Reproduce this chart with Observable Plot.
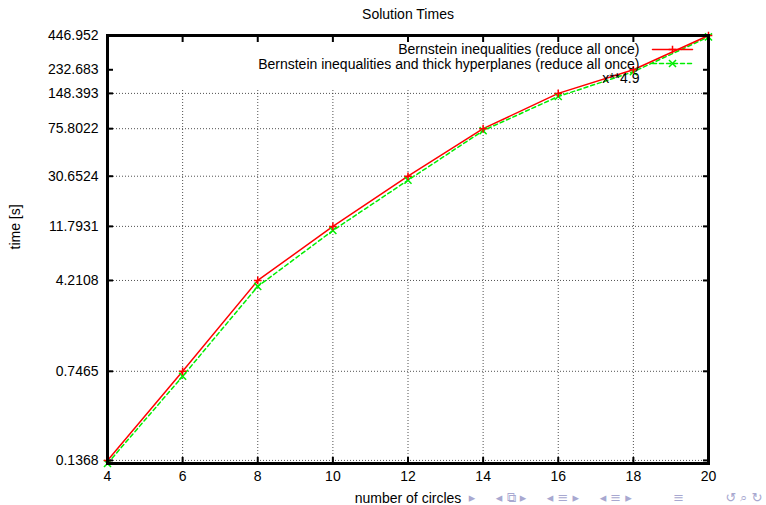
<!DOCTYPE html>
<html>
<head>
<meta charset="utf-8">
<script src="https://cdn.jsdelivr.net/npm/d3@7"></script>
<script src="https://cdn.jsdelivr.net/npm/@observablehq/plot@0.6"></script>
<style>
  html, body { margin: 0; padding: 0; background: white; }
  svg { display: block; overflow: visible; }
</style>
</head>
<body>
<div id="chart"></div>
<script>
// ---- data ----
const circles = [4, 6, 8, 10, 12, 14, 16, 18, 20];
const bernstein = [0.1368, 0.7465, 4.2108, 11.7931, 30.6524, 75.8022, 148.393, 232.683, 446.952];
const bernsteinThick = [0.129, 0.679, 3.76, 10.9, 28.4, 73.0, 140, 224, 435];
const yTicks = [0.1368, 0.7465, 4.2108, 11.7931, 30.6524, 75.8022, 148.393, 232.683, 446.952];
const yTickLabels = ["0.1368", "0.7465", "4.2108", "11.7931", "30.6524", "75.8022", "148.393", "232.683", "446.952"];
const xTicks = [4, 6, 8, 10, 12, 14, 16, 18, 20];
const yGrid = [0.1368, 0.7465, 4.2108, 11.7931, 30.6524, 75.8022, 148.393];
const xGrid = [6, 8, 10, 12, 14, 16, 18];
const seriesNames = ["Bernstein inequalities (reduce all once)",
                     "Bernstein inequalities and thick hyperplanes (reduce all once)",
                     "x**4.9"];
const title = "Solution Times";
const xLabel = "number of circles";
const yLabel = "time [s]";

const rows = circles.map((c, i) => ({c, a: bernstein[i], b: bernsteinThick[i]}));

const RED = "#ff0000", GREEN = "#00ee00";
const gridStyle = {stroke: "#333", strokeDasharray: "1,2", strokeWidth: 1, strokeOpacity: 0.85};
const lineShape = {draw(ctx, l) { ctx.moveTo(0, 0); ctx.lineTo(0, -l); }};
const yLabelOf = d => yTickLabels[yTicks.indexOf(d)] ?? String(d);

const chart = Plot.plot({
  width: 766,
  height: 505,
  marginTop: 35,
  marginRight: 58,
  marginBottom: 42,
  marginLeft: 107,
  style: {fontFamily: "'Liberation Sans', Arial, Helvetica, sans-serif", fontSize: "14px", background: "white", color: "black"},
  x: {domain: [4, 20]},
  y: {type: "log", domain: d3.extent([...bernstein, ...bernsteinThick])},
  marks: [
    // grid
    Plot.ruleY(yGrid, {y: d => d, ...gridStyle}),
    Plot.ruleX(xGrid, {x: d => d, insetTop: 55, ...gridStyle}),
    // series
    Plot.line(rows, {x: "c", y: "b", stroke: GREEN, strokeWidth: 1.5, strokeDasharray: "4,3"}),
    Plot.line(rows, {x: "c", y: "a", stroke: RED, strokeWidth: 1.5}),
    Plot.dot(rows, {x: "c", y: "b", symbol: "times", r: 3.3, stroke: GREEN, strokeWidth: 1.5}),
    Plot.dot(rows, {x: "c", y: "a", symbol: "plus", r: 2.6, stroke: RED, strokeWidth: 1.5}),
    // frame
    Plot.frame({stroke: "black", strokeWidth: 3}),
    // inward ticks (mirrored on all sides)
    Plot.axisY(yTicks, {anchor: "left", tickSize: 6, dx: 6, tickFormat: () => "", label: null, strokeWidth: 2}),
    Plot.axisY(yTicks, {anchor: "right", tickSize: 6, dx: -6, tickFormat: () => "", label: null, strokeWidth: 2}),
    Plot.axisX(xTicks, {anchor: "bottom", tickSize: 6, dy: -6, tickFormat: () => "", label: null, strokeWidth: 2}),
    Plot.axisX(xTicks, {anchor: "top", tickSize: 6, dy: 6, tickFormat: () => "", label: null, strokeWidth: 2}),
    // tick labels
    Plot.text(yTicks, {y: d => d, frameAnchor: "left", dx: -9, textAnchor: "end", text: yLabelOf, fontSize: 14}),
    Plot.text(xTicks, {x: d => d, frameAnchor: "bottom", dy: 17, text: d => String(d), fontSize: 14}),
    // titles
    Plot.text([title], {frameAnchor: "top", dy: -21, fontSize: 14, lineAnchor: "middle"}),
    Plot.text([xLabel], {frameAnchor: "bottom", dy: 35, fontSize: 14, lineAnchor: "middle"}),
    Plot.text([yLabel], {frameAnchor: "left", dx: -92, rotate: -90, fontSize: 14, lineAnchor: "middle"}),
    // key
    Plot.text([seriesNames.join("\n")], {frameAnchor: "top-right", dx: -69, dy: 28.5, textAnchor: "end", lineAnchor: "middle", lineHeight: 1.036, fontSize: 14}),
    Plot.vector([0], {frameAnchor: "top-right", dx: -56, dy: 14, rotate: 90, length: 40, anchor: "start", shape: lineShape, stroke: RED, strokeWidth: 1.5}),
    Plot.vector([0], {frameAnchor: "top-right", dx: -56, dy: 28, rotate: 90, length: 40, anchor: "start", shape: lineShape, stroke: GREEN, strokeWidth: 1.5, strokeDasharray: "4,3"}),
    Plot.dot([0], {frameAnchor: "top-right", dx: -36, dy: 14, symbol: "plus", r: 2.6, stroke: RED, strokeWidth: 1.5}),
    Plot.dot([0], {frameAnchor: "top-right", dx: -36, dy: 28, symbol: "times", r: 3.3, stroke: GREEN, strokeWidth: 1.5}),
    // beamer navigation symbols
    Plot.text(["▸     ◂ ⧉ ▸     ◂ ≡ ▸     ◂ ≡ ▸          ≡          ↺ ⌕ ↻"], {frameAnchor: "bottom-right", dx: 54, dy: 34, textAnchor: "end", lineAnchor: "middle", fontSize: 13, fill: "#a8a8d0", fontFamily: "DejaVu Sans"})
  ]
});

document.getElementById("chart").appendChild(chart);
</script>
</body>
</html>
